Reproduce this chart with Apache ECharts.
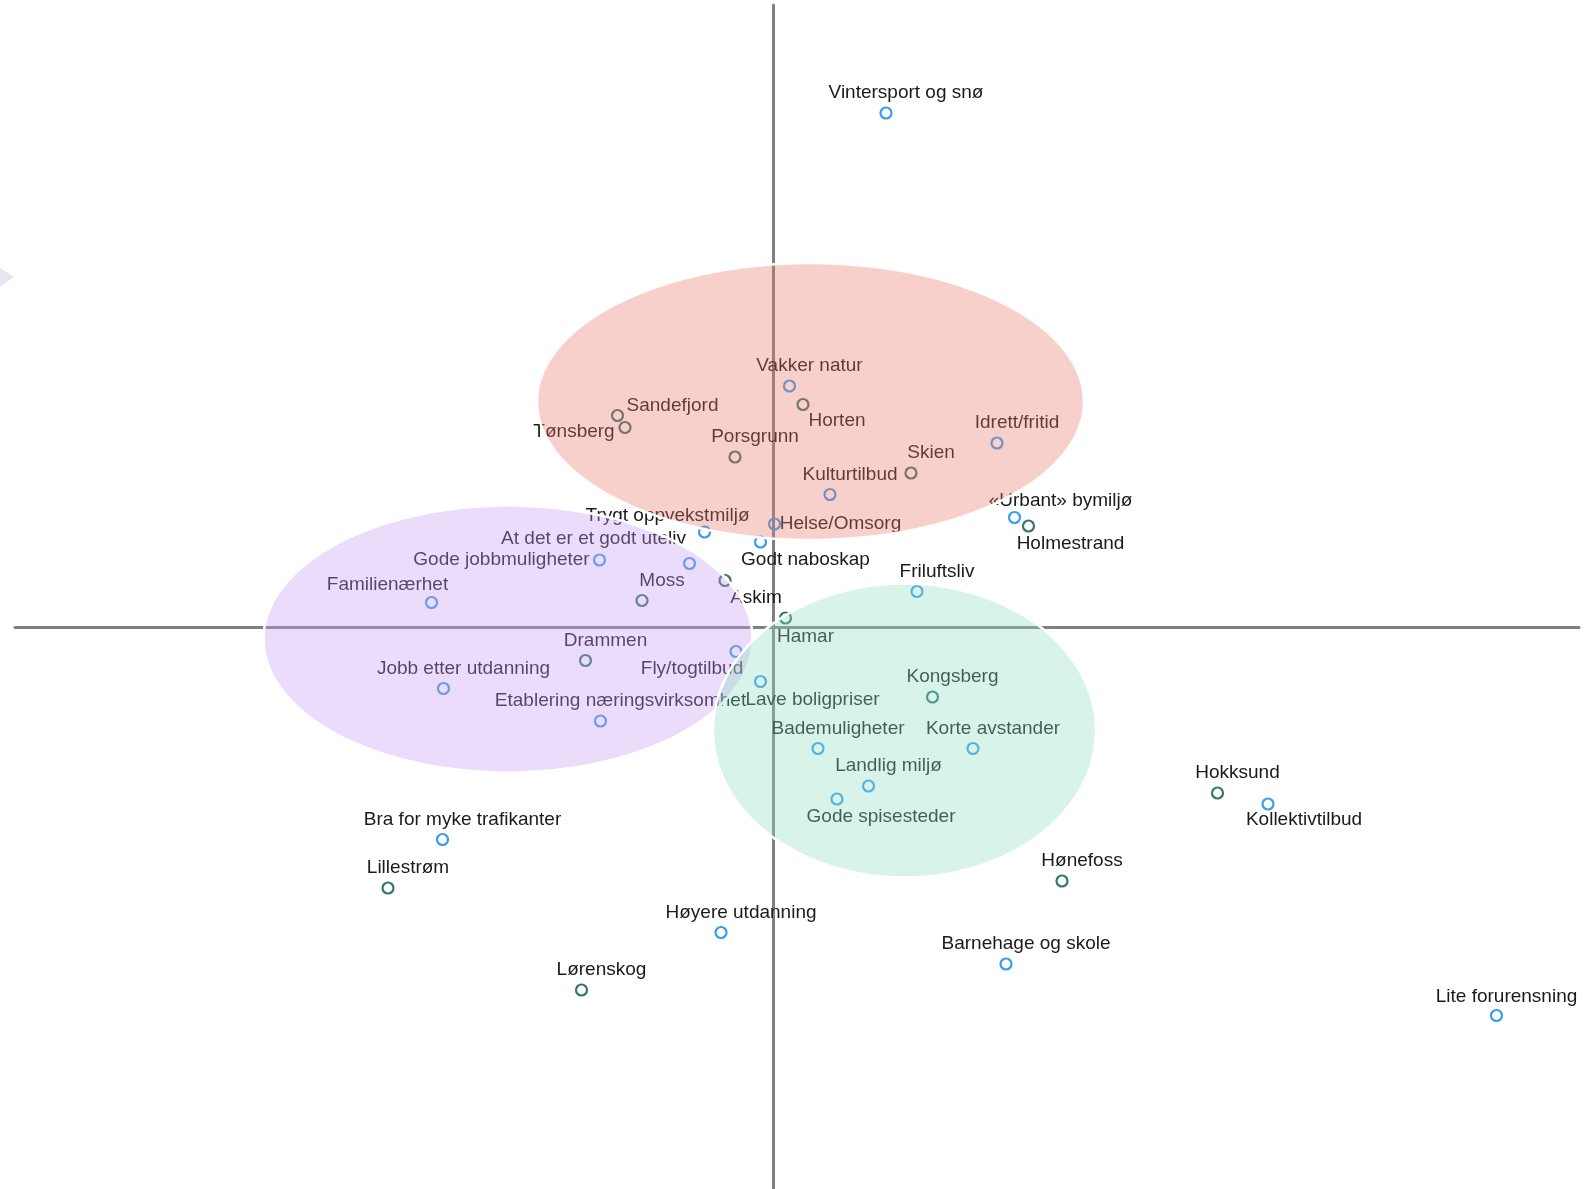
<!DOCTYPE html>
<html>
<head>
<meta charset="utf-8">
<title>Korrespondanseanalyse</title>
<script src="https://cdn.jsdelivr.net/npm/echarts@6/dist/echarts.min.js"></script>
<style>
  html, body { margin: 0; padding: 0; background: #fff; }
  #chart { width: 1586px; height: 1189px; }
</style>
</head>
<body>
<div id="chart"></div>
<script>
// egenskaper (blå punkter)
const attributeNames = [
  "Vintersport og snø", "Vakker natur", "Idrett/fritid", "Kulturtilbud", "«Urbant» bymiljø",
  "Helse/Omsorg", "Trygt oppvekstmiljø", "Godt naboskap", "At det er et godt uteliv",
  "Gode jobbmuligheter", "Familienærhet", "Friluftsliv", "Fly/togtilbud", "Jobb etter utdanning",
  "Lave boligpriser", "Etablering næringsvirksomhet", "Bademuligheter", "Korte avstander",
  "Landlig miljø", "Gode spisesteder", "Kollektivtilbud", "Bra for myke trafikanter",
  "Høyere utdanning", "Barnehage og skole", "Lite forurensning"
];
const attributeX = [
  0.225, 0.032, 0.447, 0.113, 0.482,
  0.002, -0.138, -0.026, -0.168,
  -0.348, -0.684, 0.287, -0.075, -0.660,
  -0.026, -0.346, 0.089, 0.399,
  0.190, 0.127, 0.989, -0.662,
  -0.105, 0.465, 1.446
];
const attributeY = [
  1.028, 0.482, 0.368, 0.265, 0.219,
  0.206, 0.190, 0.170, 0.127,
  0.134, 0.049, 0.071, -0.049, -0.123,
  -0.109, -0.188, -0.243, -0.243,
  -0.318, -0.344, -0.354, -0.425,
  -0.611, -0.674, -0.777
];

// byer (grønne punkter)
const cityNames = [
  "Sandefjord", "Tønsberg", "Horten", "Porsgrunn", "Skien", "Holmestrand", "Moss", "Askim",
  "Hamar", "Drammen", "Kongsberg", "Hokksund", "Hønefoss", "Lillestrøm", "Lørenskog"
];
const cityX = [
  -0.312, -0.297, 0.059, -0.077, 0.275, 0.510, -0.263, -0.097,
  0.024, -0.376, 0.318, 0.888, 0.577, -0.771, -0.384
];
const cityY = [
  0.423, 0.399, 0.445, 0.340, 0.308, 0.202, 0.053, 0.093,
  0.018, -0.067, -0.140, -0.332, -0.508, -0.522, -0.726
];

// grupper (ellipser): sentrum og halvakser
const clusterCx = [0.074, -0.531, 0.262];
const clusterCy = [0.451, -0.024, -0.207];
const clusterRx = [0.547, 0.489, 0.383];
const clusterRy = [0.277, 0.267, 0.294];
const clusterColors = [
  "rgba(232, 120, 110, 0.35)",
  "rgba(201, 155, 244, 0.35)",
  "rgba(144, 221, 195, 0.35)"
];

// etikettplassering (piksler fra punktet); standard er over og litt til høyre
const defaultOffset = [20, -20];
const labelOffsets = {
  "«Urbant» bymiljø": [46, -17],
  "Helse/Omsorg": [66, 0],
  "Trygt oppvekstmiljø": [-37, -16],
  "Godt naboskap": [45, 18],
  "At det er et godt uteliv": [-96, -25],
  "Gode jobbmuligheter": [-98, 0],
  "Familienærhet": [-44, -18],
  "Fly/togtilbud": [-44, 17],
  "Lave boligpriser": [52, 18],
  "Gode spisesteder": [44, 18],
  "Kollektivtilbud": [36, 16],
  "Lite forurensning": [10, -19],
  "Sandefjord": [55, -10],
  "Tønsberg": [-51, 4],
  "Horten": [34, 16],
  "Holmestrand": [42, 18],
  "Askim": [31, 17],
  "Hamar": [20, 19]
};

const xMin = -1.517, xMax = 1.611;
const yMin = -1.124, yMax = 1.244;

function points(names, xs, ys) {
  return names.map((n, i) => ({
    name: n,
    value: [xs[i], ys[i]],
    label: { offset: labelOffsets[n] || defaultOffset }
  }));
}

const clusterData = clusterCx.map((cx, i) => [cx, clusterCy[i], clusterRx[i], clusterRy[i]]);

function renderEllipse(params, api) {
  const c = api.coord([api.value(0), api.value(1)]);
  const s = api.size([api.value(2), api.value(3)]);
  const pts = [];
  for (let i = 0; i < 160; i++) {
    const a = i / 160 * Math.PI * 2;
    pts.push([c[0] + s[0] * Math.cos(a), c[1] + s[1] * Math.sin(a)]);
  }
  return {
    type: "polygon",
    shape: { points: pts },
    style: { fill: clusterColors[params.dataIndex], stroke: "#ffffff", lineWidth: 2.5 }
  };
}

const labelStyle = {
  show: true,
  position: "inside",
  formatter: "{b}",
  color: "#1a1a1a",
  opacity: 1,
  fontFamily: "Liberation Sans, Arial, sans-serif",
  fontSize: 19,
  align: "center",
  verticalAlign: "middle"
};

const chart = echarts.init(document.getElementById("chart"));

chart.setOption({
  animation: false,
  backgroundColor: "#ffffff",
  grid: { left: 15, right: 7, top: 5, bottom: 0 },
  xAxis: {
    type: "value",
    min: xMin,
    max: xMax,
    axisLine: { show: true, onZero: true, lineStyle: { color: "#808080", width: 3 } },
    axisTick: { show: false },
    axisLabel: { show: false },
    splitLine: { show: false }
  },
  yAxis: {
    type: "value",
    min: yMin,
    max: yMax,
    axisLine: { show: true, onZero: true, lineStyle: { color: "#808080", width: 3 } },
    axisTick: { show: false },
    axisLabel: { show: false },
    splitLine: { show: false }
  },
  graphic: [{
    type: "polygon",
    shape: { points: [[0, 268], [14, 277], [0, 287]] },
    style: { fill: "#e6e6ee" }
  }],
  series: [
    {
      name: "Byer",
      type: "scatter",
      z: 2,
      symbol: "circle",
      symbolSize: 11,
      itemStyle: { color: "rgba(255,255,255,0)", borderColor: "#37766f", borderWidth: 2.2, opacity: 1 },
      label: labelStyle,
      data: points(cityNames, cityX, cityY)
    },
    {
      name: "Egenskaper",
      type: "scatter",
      z: 2,
      symbol: "circle",
      symbolSize: 11,
      itemStyle: { color: "rgba(255,255,255,0)", borderColor: "#3a9cf0", borderWidth: 2.2, opacity: 1 },
      label: labelStyle,
      data: points(attributeNames, attributeX, attributeY)
    },
    {
      name: "Grupper",
      type: "custom",
      z: 5,
      silent: true,
      clip: false,
      renderItem: renderEllipse,
      encode: { x: 0, y: 1 },
      data: clusterData
    }
  ]
});
</script>
</body>
</html>
